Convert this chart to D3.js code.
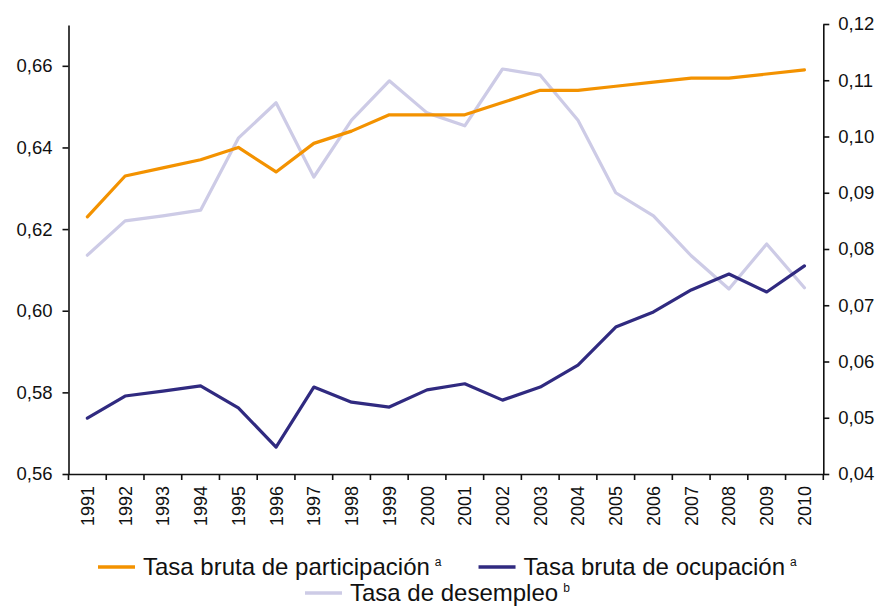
<!DOCTYPE html>
<html>
<head>
<meta charset="utf-8">
<script src="https://cdn.jsdelivr.net/npm/d3@7"></script>
<style>
  body { margin: 0; background: #fff; }
  text { font-family: "Liberation Sans", Arial, sans-serif; fill: #111; }
</style>
</head>
<body>
<figure id="chart" style="margin:0"></figure>
<script>
const years = ["1991","1992","1993","1994","1995","1996","1997","1998","1999","2000",
               "2001","2002","2003","2004","2005","2006","2007","2008","2009","2010"];
const participacion = [0.623,0.633,0.635,0.637,0.640,0.634,0.641,0.644,0.648,0.648,
                       0.648,0.651,0.654,0.654,0.655,0.656,0.657,0.657,0.658,0.659];
const ocupacion = [0.5737,0.5791,0.5803,0.5816,0.5762,0.5666,0.5813,0.5776,0.5764,0.5806,
                   0.5821,0.5781,0.5813,0.5867,0.5960,0.5997,0.6051,0.6090,0.6046,0.6110];
const desempleo = [0.0789,0.0850,0.0859,0.0869,0.0997,0.1060,0.0928,0.1029,0.1099,0.1042,
                   0.1019,0.1120,0.1109,0.1029,0.0900,0.0859,0.0788,0.0729,0.0809,0.0731];
const leftTicks = [0.56,0.58,0.60,0.62,0.64,0.66];
const rightTicks = [0.04,0.05,0.06,0.07,0.08,0.09,0.10,0.11,0.12];

const width = 881, height = 607;
const mLeft = 68.5, mRight = 823.3, mTop = 24, mBottom = 474;

const svg = d3.select("#chart").append("svg")
  .attr("width", width).attr("height", height);

const locale = d3.formatLocale({decimal: ",", thousands: ".", grouping: [3], currency: ["", ""]});
const fmt = locale.format(".2f");

// scales
const x = d3.scaleBand().domain(years).range([mLeft, mRight]);
const xc = d => x(d) + x.bandwidth() / 2;
const yL = d3.scaleLinear().domain([0.56, 0.67]).range([mBottom, 25]);
const yR = d3.scaleLinear().domain([0.04, 0.12]).range([mBottom, mTop]);

// axes
const gL = svg.append("g").attr("transform", `translate(${mLeft},0)`)
  .call(d3.axisLeft(yL).tickValues(leftTicks).tickFormat(fmt).tickSize(6).tickSizeOuter(0).tickPadding(10));
const gR = svg.append("g").attr("transform", `translate(${mRight},0)`)
  .call(d3.axisRight(yR).tickValues(rightTicks).tickFormat(fmt).tickSize(6).tickSizeOuter(0).tickPadding(9));
[gL, gR].forEach(g => {
  g.selectAll("text").style("font-size", "18.5px").attr("fill", "#111");
  g.selectAll("path,line").attr("stroke", "#111").attr("stroke-width", 1.6);
});

const gX = svg.append("g").attr("transform", `translate(0,${mBottom})`)
  .call(d3.axisBottom(x).tickSize(0).tickPadding(0));
gX.select(".domain").attr("stroke", "#111").attr("stroke-width", 1.6);
gX.selectAll("text")
  .style("font-size", "18px").attr("fill", "#111")
  .attr("text-anchor", "end")
  .attr("transform", "rotate(-90)")
  .attr("x", -12).attr("y", 0).attr("dy", "0.36em");
// ticks at band boundaries
gX.selectAll(".bound").data(d3.range(years.length + 1)).enter().append("line")
  .attr("class", "bound")
  .attr("x1", i => mLeft + i * x.step()).attr("x2", i => mLeft + i * x.step())
  .attr("y1", 0).attr("y2", 6)
  .attr("stroke", "#111").attr("stroke-width", 1.6);

// lines
const series = [
  {name: "Tasa de desempleo", sup: "b", values: desempleo, y: yR, color: "#cdcbe6"},
  {name: "Tasa bruta de participación", sup: "a", values: participacion, y: yL, color: "#f39200"},
  {name: "Tasa bruta de ocupación", sup: "a", values: ocupacion, y: yL, color: "#302a80"}
];
series.forEach(s => {
  const line = d3.line().x((d, i) => xc(years[i])).y(d => s.y(d));
  svg.append("path").datum(s.values)
    .attr("d", line).attr("fill", "none")
    .attr("stroke", s.color).attr("stroke-width", 3.2)
    .attr("stroke-linejoin", "round").attr("stroke-linecap", "round");
});

// legend
const rows = [[series[1], series[2]], [series[0]]];
const rowX = [98, 305];
const rowY = [575, 601];
rows.forEach((row, r) => {
  const g = svg.append("g").attr("transform", `translate(${rowX[r]},${rowY[r]})`);
  let cx = 0;
  row.forEach((s, k) => {
    if (k > 0) cx += 37;
    g.append("line").attr("x1", cx).attr("x2", cx + 37)
      .attr("y1", -8).attr("y2", -8)
      .attr("stroke", s.color).attr("stroke-width", 3.5);
    cx += 45;
    const t = g.append("text").attr("x", cx).attr("y", 0).style("font-size", "24px").text(s.name);
    cx += t.node().getComputedTextLength() + 5;
    const sp = g.append("text").attr("x", cx).attr("y", -9).style("font-size", "12px").text(s.sup);
    cx += sp.node().getComputedTextLength();
  });
});
</script>
</body>
</html>
